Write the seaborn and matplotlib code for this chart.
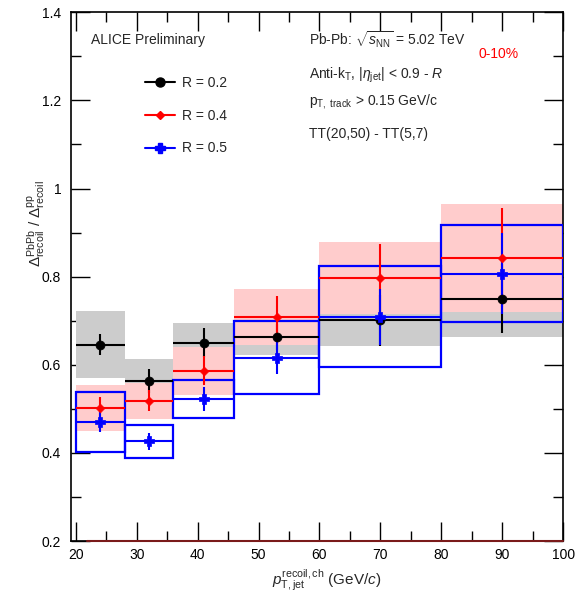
import numpy as np
import pandas as pd
import matplotlib
matplotlib.use("Agg")
import matplotlib.pyplot as plt
import seaborn as sns
from matplotlib.patches import Rectangle
from matplotlib.lines import Line2D
from matplotlib.ticker import MultipleLocator

# ---------------- data ----------------
bin_lo = [20, 28, 36, 46, 60, 80]
bin_hi = [28, 36, 46, 60, 80, 100]
x_pts = [24, 32, 41, 53, 70, 90]

r02_val = [0.646, 0.563, 0.650, 0.663, 0.701, 0.750]
r02_stat = [0.024, 0.027, 0.033, 0.030, 0.058, 0.079]
r02_sys = [0.075, 0.050, 0.044, 0.041, 0.058, 0.087]

r04_val = [0.502, 0.518, 0.586, 0.708, 0.797, 0.843]
r04_stat = [0.024, 0.024, 0.033, 0.048, 0.077, 0.112]
r04_sys = [0.052, 0.040, 0.055, 0.064, 0.081, 0.123]

r05_val = [0.470, 0.426, 0.523, 0.616, 0.709, 0.807]
r05_stat = [0.022, 0.020, 0.027, 0.037, 0.064, 0.092]
r05_sys = [0.068, 0.038, 0.043, 0.083, 0.115, 0.110]

labels = ["R = 0.2", "R = 0.4", "R = 0.5"]
colors = ["black", "red", "blue"]

# ---------------- style ----------------
sns.set_theme(style="ticks")
plt.rcParams["font.family"] = ["Liberation Sans", "DejaVu Sans"]
plt.rcParams["mathtext.fontset"] = "custom"
plt.rcParams["mathtext.rm"] = "Liberation Sans"
plt.rcParams["mathtext.it"] = "Liberation Sans:italic"
plt.rcParams["mathtext.bf"] = "Liberation Sans:bold"

fig = plt.figure(figsize=(5.77, 5.99), dpi=100)
ax = fig.add_axes([0.123, 0.0968, 0.853, 0.8827])

lo = np.array(bin_lo, float)
hi = np.array(bin_hi, float)
xp = np.array(x_pts, float)

# systematic boxes
for l, h, v, s in zip(lo, hi, r02_val, r02_sys):
    ax.add_patch(Rectangle((l, v - s), h - l, 2 * s, facecolor="#cccccc",
                           edgecolor="none", zorder=1))
for l, h, v, s in zip(lo, hi, r04_val, r04_sys):
    ax.add_patch(Rectangle((l, v - s), h - l, 2 * s, facecolor="#ffcccc",
                           edgecolor="none", zorder=2))
for l, h, v, s in zip(lo, hi, r05_val, r05_sys):
    ax.add_patch(Rectangle((l, v - s), h - l, 2 * s, facecolor="none",
                           edgecolor="blue", lw=1.6, zorder=3))

# points with errors
series = [(r02_val, r02_stat), (r04_val, r04_stat), (r05_val, r05_stat)]
markers = ["o", "D", "P"]
msizes = [42, 20, 50]
for lab, (v, e), c, m, ms in zip(labels, series, colors, markers, msizes):
    v = np.array(v)
    ax.errorbar(xp, v, yerr=e, xerr=[xp - lo, hi - xp], fmt="none",
                ecolor=c, elinewidth=1.5, capsize=0, zorder=4)
    df = pd.DataFrame({"x": xp, "y": v})
    sns.scatterplot(data=df, x="x", y="y", ax=ax, color=c, marker=m, s=ms,
                    edgecolor=c, linewidth=0.5, zorder=5, legend=False)

# bottom reference line
ax.plot([21.8, 100], [0.2, 0.2], color="#7a1a1a", lw=1.5, zorder=6, clip_on=False)

ax.set_xlim(19.2, 100)
ax.set_ylim(0.2, 1.4)
ax.xaxis.set_major_locator(MultipleLocator(10))
ax.xaxis.set_minor_locator(MultipleLocator(5))
ax.yaxis.set_major_locator(MultipleLocator(0.2))
ax.yaxis.set_minor_locator(MultipleLocator(0.1))
ax.yaxis.set_major_formatter(matplotlib.ticker.FuncFormatter(lambda v, p: f"{v:g}"))
ax.tick_params(which="both", direction="in", top=True, right=True, labelsize=10,
               colors="black", width=1)
ax.tick_params(which="major", length=14)
ax.tick_params(which="minor", length=7)
ax.tick_params(axis="x", pad=5)
ax.tick_params(axis="y", pad=7)
for sp in ax.spines.values():
    sp.set_linewidth(1.2)
    sp.set_color("black")
ax.set_xlabel("")
ax.set_ylabel("")

ax.text(0.52, -0.075, r"$p_{\rm T,jet}^{\rm recoil,ch}$ (GeV/$c$)",
        transform=ax.transAxes, ha="center", va="center", fontsize=11)
ax.text(-0.07, 0.60, r"$\Delta^{\rm PbPb}_{\rm recoil}$ / $\Delta^{\rm pp}_{\rm recoil}$",
        transform=ax.transAxes, ha="center", va="center", rotation=90, fontsize=11)

# annotations
ax.text(0.041, 0.9476, "ALICE Preliminary", transform=ax.transAxes,
        ha="left", va="center", fontsize=10)
ax.text(0.484, 0.9476, r"Pb-Pb: $\sqrt{s_{\rm NN}}$ = 5.02 TeV", transform=ax.transAxes,
        ha="left", va="center", fontsize=10)
ax.text(0.828, 0.922, "0-10%", transform=ax.transAxes, color="red",
        ha="left", va="center", fontsize=10)
ax.text(0.484, 0.881, r"Anti-k$_{\rm T}$, |$\eta_{\rm jet}$| < 0.9 - $R$",
        transform=ax.transAxes, ha="left", va="center", fontsize=10)
ax.text(0.484, 0.831, r"p$_{\rm T,\ track}$ > 0.15 GeV/c",
        transform=ax.transAxes, ha="left", va="center", fontsize=10)
ax.text(0.484, 0.770, "TT(20,50) - TT(5,7)",
        transform=ax.transAxes, ha="left", va="center", fontsize=10)

handles = [Line2D([], [], color=c, marker=m, markersize=ms, lw=1.5)
           for c, m, ms in zip(colors, markers, [6.5, 4.5, 7])]
leg = ax.legend(handles, labels, loc="upper left", bbox_to_anchor=(0.14, 0.89),
                frameon=False, fontsize=10, handlelength=2.1, handletextpad=0.5,
                labelspacing=1.35, borderaxespad=0)

fig.savefig("out.png", dpi=100)
